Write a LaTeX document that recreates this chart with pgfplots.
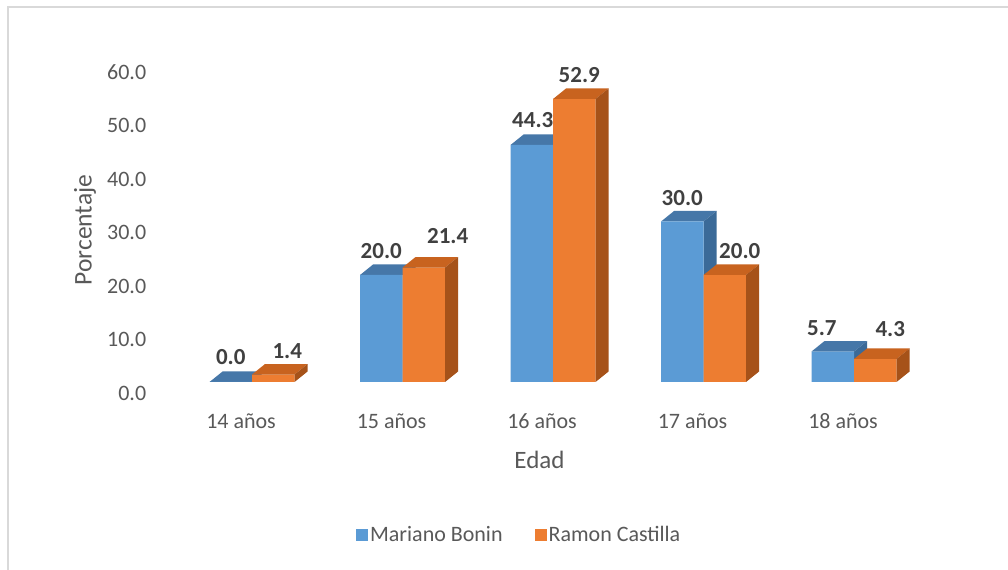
\documentclass[border=0pt]{standalone}
\usepackage{pgfplots}
\pgfplotsset{compat=1.18}
\usepackage{pgfplotstable}
\usepackage{fontspec}
\setmainfont{Carlito}
\definecolor{bfront}{HTML}{5B9BD5}
\definecolor{btop}{HTML}{4677A8}
\definecolor{bside}{HTML}{3B6A98}
\definecolor{ofront}{HTML}{ED7D31}
\definecolor{otop}{HTML}{C8631F}
\definecolor{oside}{HTML}{A65219}
\definecolor{txt}{HTML}{595959}
\definecolor{lbl}{HTML}{404040}
\definecolor{frame}{HTML}{D9D9D9}

\pgfplotstableread{
x mb rc mbdx rcdx mbdy rcdy
0 0.0 1.4 0 14 2 0
1 20.0 21.4 0 24 0 8
2 44.3 52.9 1 5 1 0
3 30.0 20.0 0 15 0 0
4 5.7 4.3 -11 15 0 7
}\datatable

\def\bwu{0.2824}
\def\dxu{0.0864}
\def\dyu{1.963}

\newcommand\barfaces[5]{%
  \pgfplotstablegetelem{#1}{#2}\of\datatable
  \pgfmathsetmacro\barval{\pgfplotsretval}%
  \pgfmathsetmacro\barvt{\barval+\dyu}%
  \pgfmathsetmacro\xa{#1+#3}%
  \pgfmathsetmacro\xb{#1+#3+\bwu}%
  \pgfmathsetmacro\xc{\xb+\dxu}%
  \pgfmathsetmacro\xd{\xa+\dxu}%
  \edef\temp{%
    \noexpand\addplot[forget plot, fill=#4, draw=none] coordinates {(\xa,\barval) (\xb,\barval) (\xc,\barvt) (\xd,\barvt)};
    \noexpand\addplot[forget plot, fill=#5, draw=none] coordinates {(\xb,0) (\xb,\barval) (\xc,\barvt) (\xc,\dyu)};
  }%
  \temp
}

\begin{document}
\begin{tikzpicture}
\useasboundingbox (0,0) rectangle (1008bp,570bp);
\fill[white] (0,0) rectangle (1008bp,570bp);
\draw[frame, line width=1.2bp] (8bp,0) -- (8bp,563bp) -- (1008bp,563bp);
\begin{axis}[
  at={(149.7bp,188bp)}, anchor=south west,
  scale only axis,
  width=779.6bp, height=331.7bp,
  xmin=-0.68, xmax=4.5, ymin=0, ymax=62,
  clip=false,
  axis line style={draw=none},
  major tick length=0pt,
  /pgf/number format/assume math mode=true,
  ytick={0,10,...,60},
  yticklabel={\pgfmathprintnumber[fixed,fixed zerofill,precision=1]{\tick}},
  yticklabel style={font=\fontsize{22bp}{26bp}\selectfont, text=txt, yshift=-11bp},
  xtick={0,1,2,3,4},
  xticklabels={14 años,15 años,16 años,17 años,18 años},
  xticklabel style={font=\fontsize{22bp}{26bp}\selectfont, text=txt, anchor=base, yshift=-46bp, xshift=-11bp},
  xlabel={Edad},
  xlabel style={at={(axis description cs:0.5,0)}, anchor=base, yshift=-86bp, font=\fontsize{25bp}{30bp}\selectfont, text=txt},
  ylabel={Porcentaje},
  ylabel style={at={(axis description cs:-0.083,0.458)}, anchor=center, font=\fontsize{25.5bp}{30bp}\selectfont, text=txt},
  legend style={at={(axis description cs:0.474,-0.461)}, anchor=center, draw=none, fill=none,
    font=\fontsize{22bp}{26bp}\selectfont, text=txt,
    legend columns=2,
    /tikz/every even column/.append style={column sep=30bp}},
]
\pgfplotsinvokeforeach{0,...,4}{\barfaces{#1}{mb}{-\bwu}{btop}{bside}}
\addplot[ybar, bar width=42.5bp, bar shift=-21.25bp, fill=bfront, draw=none,
  legend image code/.code={\fill[bfront] (0bp,-6bp) rectangle (12bp,6bp);},
  point meta=y,
  nodes near coords={\pgfmathprintnumber[fixed,fixed zerofill,precision=1]{\pgfplotspointmeta}},
  visualization depends on={\thisrow{mbdx} \as \ldx},
  visualization depends on={\thisrow{mbdy} \as \ldy},
  every node near coord/.append style={anchor=base, xshift=-21.25bp, xshift=\ldx pt, yshift=16bp, yshift=\ldy pt,
    font=\fontsize{23bp}{27bp}\selectfont\bfseries, text=lbl}]
  table[x=x, y=mb] {\datatable};
\addplot[ybar, bar width=42.5bp, bar shift=21.25bp, fill=ofront, draw=none,
  legend image code/.code={\fill[ofront] (0bp,-6bp) rectangle (12bp,6bp);},
  point meta=y,
  nodes near coords={\pgfmathprintnumber[fixed,fixed zerofill,precision=1]{\pgfplotspointmeta}},
  visualization depends on={\thisrow{rcdx} \as \ldx},
  visualization depends on={\thisrow{rcdy} \as \ldy},
  every node near coord/.append style={anchor=base, xshift=21.25bp, xshift=\ldx pt, yshift=16bp, yshift=\ldy pt,
    font=\fontsize{23bp}{27bp}\selectfont\bfseries, text=lbl}]
  table[x=x, y=rc] {\datatable};
\pgfplotsinvokeforeach{0,...,4}{\barfaces{#1}{rc}{0}{otop}{oside}}
\legend{Mariano Bonin, Ramon Castilla}
\end{axis}
\end{tikzpicture}
\end{document}
